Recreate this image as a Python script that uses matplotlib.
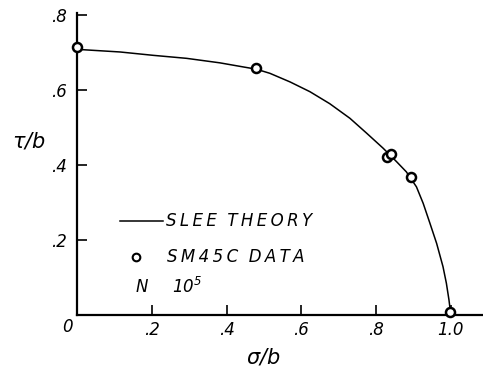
import matplotlib
matplotlib.use("Agg")
import matplotlib.pyplot as plt

# SM45C fatigue data, sigma/b vs tau/b at N = 10^5
sigma_data = [0.0, 0.479, 0.828, 0.840, 0.893, 0.999]
tau_data = [0.714, 0.658, 0.422, 0.431, 0.369, 0.009]

# Slee theory curve
sigma_theory = [0.0, 0.115, 0.204, 0.293, 0.382, 0.445, 0.480, 0.516, 0.570,
                0.623, 0.676, 0.730, 0.775, 0.819, 0.855, 0.881, 0.908,
                0.926, 0.944, 0.962, 0.979, 0.988, 0.995, 1.0]
tau_theory = [0.709, 0.702, 0.693, 0.685, 0.673, 0.662, 0.656, 0.645, 0.622,
              0.596, 0.564, 0.525, 0.485, 0.445, 0.409, 0.382, 0.342,
              0.298, 0.245, 0.191, 0.129, 0.085, 0.040, 0.0]

xticks = [0.2, 0.4, 0.6, 0.8, 1.0]
xticklabels = [".2", ".4", ".6", ".8", "1.0"]
yticks = [0.2, 0.4, 0.6, 0.8]
yticklabels = [".2", ".4", ".6", ".8"]

plt.rcParams['font.family'] = ['DejaVu Sans']
plt.rcParams['font.style'] = 'oblique'


def spaced(word):
    # lettering on the drawing is spaced out
    return "\u2009".join(word)


W, H = 483, 378
fig = plt.figure(figsize=(W / 100, H / 100), dpi=100)
ax = fig.add_axes([77 / W, 63 / H, 406 / W, 302 / H])
ax.set_xlim(0, 1.086)
ax.set_ylim(0, 0.806)

for s in ['top', 'right']:
    ax.spines[s].set_visible(False)
for s in ['left', 'bottom']:
    ax.spines[s].set_linewidth(1.6)

ax.plot(sigma_theory, tau_theory, color='black', lw=1.1, clip_on=False,
        solid_joinstyle='round')
ax.plot(sigma_data, tau_data, 'o', ms=6.5, mfc='white', mec='black', mew=1.8,
        clip_on=False, zorder=5)

ax.set_xticks(xticks)
ax.set_xticklabels(xticklabels)
ax.set_yticks(yticks)
ax.set_yticklabels(yticklabels)
ax.tick_params(direction='in', length=7, width=1.2, labelsize=12)
ax.tick_params(axis='x', pad=4)
ax.tick_params(axis='y', pad=7)

ax.annotate("0", xy=(0, 0), xytext=(-7, -2), textcoords='offset points',
            ha='center', va='top', fontsize=12)

# legend drawn by hand
ax.plot([0.115, 0.23], [0.2505, 0.2505], color='black', lw=1.1)
ax.text(0.238, 0.2505, spaced("SLEE") + "  " + spaced("THEORY"),
        fontsize=12, va='center')
ax.plot([0.159], [0.1545], 'o', ms=5.5, mfc='white', mec='black', mew=1.5)
ax.text(0.241, 0.1545, spaced("SM45C") + "  " + spaced("DATA"),
        fontsize=12, va='center')
ax.text(0.172, 0.074, "N", fontsize=12, va='center', ha='center')
ax.text(0.255, 0.074, r"$\mathit{10}^{5}$", fontsize=12, va='center')

fig.text(263 / W, 1 - 357 / H, r"$\sigma$/b", fontsize=15, ha='center', va='center')
fig.text(29 / W, 1 - 141 / H, r"$\tau$/b", fontsize=15, ha='center', va='center')

fig.savefig("out.png", dpi=100)
